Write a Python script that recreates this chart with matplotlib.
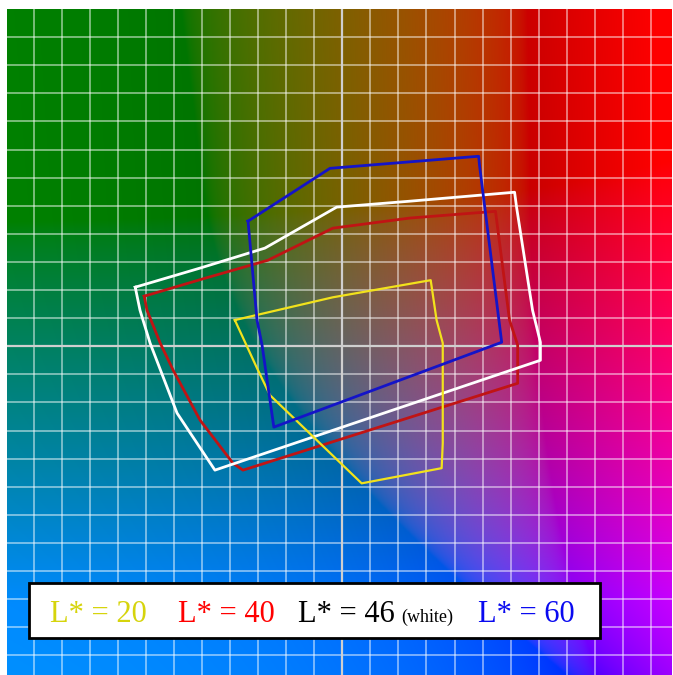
import numpy as np
import matplotlib
matplotlib.use("Agg")
import matplotlib.pyplot as plt
from matplotlib.patches import Rectangle

# gamut outlines in the a*b* plane (a*, b*)
l20_a = [-38.3, -3.4, 31.5, 33.6, 35.8, 35.8, 35.4, 6.9, -25.8, -30.4, -38.3]
l20_b = [9.3, 17.4, 23.5, 9.3, 1.1, -34.5, -43.4, -48.8, -17.4, -7.8, 9.3]

l40_a = [-70.6, -48.9, -26.5, -3.4, 24.0, 54.6, 59.6, 62.5, 62.5, -35.4, -39.0, -50.7, -60.3, -64.9, -69.6, -70.6]
l40_b = [17.8, 24.2, 30.6, 42.0, 45.6, 48.0, 9.3, 0.4, -13.2, -44.1, -41.6, -26.3, -8.5, 1.1, 12.8, 17.8]

l46_a = [-73.8, -50.7, -27.6, -2.0, 24.0, 61.4, 62.1, 67.8, 70.6, 70.6, -45.4, -58.9, -68.5, -72.1, -73.8]
l46_b = [21.0, 27.8, 34.9, 49.5, 51.6, 54.8, 49.5, 12.8, 1.4, -5.0, -44.1, -23.8, 1.1, 12.8, 21.0]

l60_a = [-33.6, -4.4, 48.6, 48.9, 56.8, -24.4, -28.6, -30.4, -33.6]
l60_b = [44.5, 63.3, 67.6, 64.4, 1.4, -28.8, 0.4, 9.3, 44.5]

labels = ["L* = 20", "L* = 40", "L* = 46", "(white)", "L* = 60"]
label_colors = ["#d6d40c", "#ff0000", "#000000", "#000000", "#0a0af0"]

a_min, a_max = -119.5, 117.5
b_min, b_max = -117.0, 120.0


def lab_to_rgb(L, a, b):
    fy = (L + 16) / 116.0
    fx = fy + a / 500.0
    fz = fy - b / 200.0
    d = 6 / 29

    def finv(t):
        return np.where(t > d, t ** 3, 3 * d * d * (t - 4 / 29))

    X = 0.95047 * finv(fx)
    Y = finv(fy) * np.ones_like(a)
    Z = 1.08883 * finv(fz)
    M = np.array([[3.2406, -1.5372, -0.4986],
                  [-0.9689, 1.8758, 0.0415],
                  [0.0557, -0.2040, 1.0570]])
    xyz = np.stack([X, Y, Z], axis=-1)
    rgb = np.clip(xyz @ M.T, 0, 1)
    rgb = np.where(rgb <= 0.0031308, 12.92 * rgb, 1.055 * rgb ** (1 / 2.4) - 0.055)
    return np.clip(rgb, 0, 1)


fig = plt.figure(figsize=(6.73, 6.75), dpi=100)
ax = fig.add_axes([7 / 673, 0, 665 / 673, 666 / 675])

aa, bb = np.meshgrid(np.linspace(a_min, a_max, 400), np.linspace(b_min, b_max, 400))
bg = lab_to_rgb(42.0, aa, bb)
ax.imshow(bg, extent=[a_min, a_max, b_min, b_max], origin="lower", aspect="auto",
          interpolation="bilinear", zorder=0)

for v in range(-110, 120, 10):
    if v == 0:
        continue
    ax.axvline(v, color="white", lw=1.1, alpha=0.6, zorder=1)
    ax.axhline(v, color="white", lw=1.1, alpha=0.6, zorder=1)
ax.axvline(0, color="#cfcfcf", lw=1.6, zorder=1)
ax.axhline(0, color="#cfcfcf", lw=1.6, zorder=1)

ax.plot(l40_a, l40_b, color="#c01414", lw=2.0, zorder=3)
ax.plot(l46_a, l46_b, color="#ffffff", lw=2.0, zorder=4)
ax.plot(l20_a, l20_b, color="#f2e21c", lw=1.6, zorder=5)
ax.plot(l60_a, l60_b, color="#1414c8", lw=2.0, zorder=6)

ax.set_xlim(a_min, a_max)
ax.set_ylim(b_min, b_max)
ax.axis("off")

# legend box
W, H = 673.0, 675.0
fig.patches.append(Rectangle((29 / W, 1 - 638 / H), 571 / W, 55 / H, transform=fig.transFigure,
                             facecolor="white", edgecolor="black", lw=2.0, zorder=10))
xs = [50, 178, 298, 401, 478]
sizes = [22, 22, 22, 13, 22]
for x, txt, c, s in zip(xs, labels, label_colors, sizes):
    fig.text(x / W, 1 - 622 / H, txt, color=c, fontsize=s, family="Liberation Serif",
             ha="left", va="baseline", zorder=11)

fig.savefig("out.png", dpi=100)
